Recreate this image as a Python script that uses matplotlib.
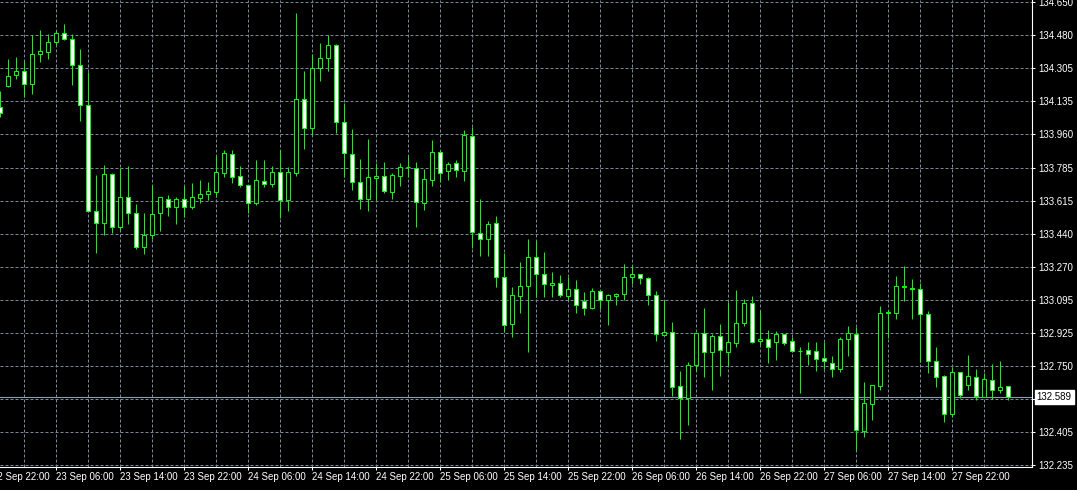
import matplotlib
matplotlib.use("Agg")
import matplotlib.pyplot as plt
import numpy as np

plt.rcParams['font.family'] = ['Liberation Sans', 'DejaVu Sans']

# ---- data (hourly candles, 22 Sep 23:00 .. 28 Sep 05:00) ----
opens = [134.102, 134.215, 134.269, 134.290, 134.222, 134.379, 134.392, 134.441, 134.488, 134.457,
         134.321, 134.112, 133.559, 133.497, 133.754, 133.476, 133.632, 133.549, 133.374, 133.434,
         133.549, 133.622, 133.583, 133.622, 133.583, 133.630, 133.651, 133.661, 133.761, 133.857,
         133.742, 133.695, 133.604, 133.716, 133.700, 133.763, 133.617, 133.761, 134.144, 133.996,
         134.306, 134.358, 134.426, 134.024, 133.857, 133.711, 133.625, 133.731, 133.742, 133.661,
         133.745, 133.788, 133.784, 133.601, 133.724, 133.867, 133.768, 133.810, 133.771, 133.951,
         133.444, 133.416, 133.497, 133.215, 132.969, 133.119, 133.168, 133.319, 133.230, 133.176,
         133.183, 133.119, 133.152, 133.089, 133.056, 133.142, 133.095, 133.119, 133.126, 133.215,
         133.230, 133.209, 133.121, 132.915, 132.928, 132.647, 132.586, 132.755, 132.922, 132.823,
         132.907, 132.826, 132.873, 132.975, 133.079, 132.881, 132.891, 132.879, 132.917, 132.881,
         132.830, 132.834, 132.828, 132.792, 132.766, 132.735, 132.891, 132.917, 132.412, 132.555,
         132.649, 133.028, 133.027, 133.166, 133.160, 133.152, 133.022, 132.776, 132.698, 132.503,
         132.719, 132.654, 132.693, 132.592, 132.677, 132.625, 132.646]
highs = [134.189, 134.353, 134.363, 134.344, 134.478, 134.504, 134.483, 134.502, 134.537, 134.485,
         134.405, 134.285, 133.749, 133.799, 133.757, 133.785, 133.796, 133.596, 133.549, 133.695,
         133.635, 133.643, 133.634, 133.691, 133.707, 133.723, 133.712, 133.848, 133.879, 133.879,
         133.796, 133.697, 133.827, 133.827, 133.796, 133.879, 133.792, 134.593, 134.291, 134.380,
         134.439, 134.478, 134.434, 134.123, 133.987, 133.831, 133.935, 133.810, 133.815, 133.758,
         133.810, 133.846, 133.815, 133.778, 133.930, 133.879, 133.815, 133.825, 133.983, 133.999,
         133.623, 133.509, 133.535, 133.340, 133.162, 133.295, 133.413, 133.406, 133.347, 133.242,
         133.225, 133.216, 133.201, 133.136, 133.157, 133.143, 133.128, 133.131, 133.284, 133.274,
         133.232, 133.215, 133.142, 133.095, 132.981, 132.726, 132.771, 132.926, 133.054, 132.919,
         132.971, 133.087, 133.148, 133.100, 133.117, 133.039, 132.940, 132.936, 132.919, 132.905,
         132.849, 132.877, 132.877, 132.877, 132.802, 132.902, 132.961, 132.954, 132.668, 132.653,
         133.065, 133.044, 133.221, 133.274, 133.204, 133.187, 133.039, 132.849, 132.703, 132.748,
         132.722, 132.808, 132.736, 132.717, 132.762, 132.778, 132.647]
lows = [134.053, 134.209, 134.251, 134.157, 134.173, 134.340, 134.356, 134.426, 134.452, 134.220,
        134.032, 133.554, 133.343, 133.437, 133.447, 133.462, 133.494, 133.361, 133.336, 133.416,
        133.456, 133.536, 133.494, 133.531, 133.573, 133.601, 133.618, 133.635, 133.740, 133.705,
        133.684, 133.549, 133.594, 133.688, 133.688, 133.523, 133.562, 133.745, 133.886, 133.959,
        134.241, 134.293, 133.969, 133.740, 133.670, 133.573, 133.562, 133.618, 133.656, 133.625,
        133.693, 133.740, 133.479, 133.568, 133.693, 133.714, 133.724, 133.737, 133.719, 133.366,
        133.327, 133.327, 133.166, 132.931, 132.905, 133.030, 132.826, 133.112, 133.112, 133.112,
        133.113, 133.098, 133.030, 133.019, 133.051, 133.051, 132.967, 133.072, 133.095, 133.178,
        133.178, 133.072, 132.884, 132.912, 132.595, 132.372, 132.445, 132.727, 132.696, 132.626,
        132.700, 132.753, 132.852, 132.961, 132.873, 132.861, 132.769, 132.783, 132.861, 132.826,
        132.609, 132.757, 132.727, 132.735, 132.696, 132.720, 132.804, 132.313, 132.383, 132.470,
        132.625, 132.898, 132.995, 133.091, 132.999, 132.773, 132.714, 132.641, 132.461, 132.487,
        132.583, 132.626, 132.574, 132.588, 132.581, 132.612, 132.576]
closes = [134.074, 134.264, 134.290, 134.222, 134.379, 134.394, 134.441, 134.488, 134.457, 134.321,
          134.112, 133.562, 133.497, 133.754, 133.476, 133.632, 133.549, 133.374, 133.434, 133.545,
          133.632, 133.583, 133.622, 133.583, 133.632, 133.648, 133.665, 133.763, 133.862, 133.740,
          133.695, 133.601, 133.721, 133.700, 133.763, 133.620, 133.763, 134.144, 133.992, 134.306,
          134.358, 134.426, 134.024, 133.862, 133.711, 133.625, 133.737, 133.742, 133.667, 133.747,
          133.789, 133.790, 133.606, 133.726, 133.867, 133.761, 133.804, 133.773, 133.956, 133.450,
          133.416, 133.493, 133.215, 132.967, 133.121, 133.168, 133.319, 133.230, 133.178, 133.185,
          133.121, 133.152, 133.069, 133.053, 133.142, 133.095, 133.121, 133.126, 133.215, 133.230,
          133.209, 133.121, 132.917, 132.928, 132.644, 132.586, 132.755, 132.922, 132.823, 132.907,
          132.834, 132.875, 132.975, 133.079, 132.879, 132.891, 132.852, 132.917, 132.873, 132.828,
          132.832, 132.816, 132.790, 132.776, 132.735, 132.891, 132.922, 132.416, 132.557, 132.651,
          133.027, 133.032, 133.168, 133.168, 133.152, 133.022, 132.776, 132.693, 132.500, 132.719,
          132.602, 132.698, 132.595, 132.682, 132.625, 132.642, 132.589]

last_price = 132.589

x_label_pos = [7, 15, 23, 31, 39, 47, 55, 63, 71, 79, 87, 95, 103, 111, 119]
x_labels = ['23 Sep 06:00', '23 Sep 14:00', '23 Sep 22:00', '24 Sep 06:00', '24 Sep 14:00',
            '24 Sep 22:00', '25 Sep 06:00', '25 Sep 14:00', '25 Sep 22:00', '26 Sep 06:00',
            '26 Sep 14:00', '26 Sep 22:00', '27 Sep 06:00', '27 Sep 14:00', '27 Sep 22:00']
first_label_pos = -1
first_label = '22 Sep 22:00'
x_grid_minor = [3, 11, 19, 27, 35, 43, 51, 59, 67, 75, 83, 91, 99, 107, 115, 123]

y_tick_vals = [132.235, 132.4075, 132.58, 132.7525, 132.925, 133.0975, 133.27, 133.4425,
               133.615, 133.7875, 133.96, 134.1325, 134.305, 134.4775, 134.65]
y_tick_labels = ['132.235', '132.405', '', '132.750', '132.925', '133.095', '133.270', '133.440',
                 '133.615', '133.785', '133.960', '134.135', '134.305', '134.480', '134.650']

# ---- figure ----
W, H = 1077, 490
fig = plt.figure(figsize=(W / 100, H / 100), dpi=100, facecolor='black')
ax = fig.add_axes([0, 22.7 / H, 1032.3 / W, 467.3 / H])
ax.set_facecolor('black')
ax.set_xlim(-0.0375, 129.0)
ax.set_ylim(132.223, 134.662)

green = '#00ff00'
grid_c = '#778899'

x = np.arange(len(opens))
o = np.array(opens); c = np.array(closes)
h = np.array(highs); l = np.array(lows)
bottoms = np.minimum(o, c)
heights = np.abs(c - o)
fills = ['white' if cc < oo else 'black' for oo, cc in zip(o, c)]

ax.vlines(x, l, h, color=green, linewidth=0.75, zorder=3)
ax.bar(x, heights, bottom=bottoms, width=0.5, color=fills, edgecolor=green,
       linewidth=0.75, zorder=4)

# current price line
ax.axhline(last_price, color='#8f9cab', linewidth=0.8, zorder=2)

# axes styling
for s in ['top', 'left']:
    ax.spines[s].set_visible(False)
for s in ['bottom', 'right']:
    ax.spines[s].set_color('white')
    ax.spines[s].set_linewidth(0.8)

ax.yaxis.tick_right()
ax.set_yticks(y_tick_vals, y_tick_labels)
ax.tick_params(axis='y', which='major', colors='white', labelcolor='white', length=2.5,
               width=0.75, pad=1.5, labelsize=7)

ax.set_xticks(x_label_pos, x_labels)
ax.set_xticks(x_grid_minor, minor=True)
ax.tick_params(axis='x', which='major', colors='white', labelcolor='white', length=2.5,
               width=0.75, pad=1.0, labelsize=7)
ax.tick_params(axis='x', which='minor', length=0)
for lbl in ax.get_xticklabels():
    lbl.set_horizontalalignment('left')

ax.annotate(first_label, xy=(first_label_pos, 0), xycoords=('data', 'axes fraction'),
            xytext=(0, -3.5), textcoords='offset points', ha='left', va='top',
            color='white', fontsize=7, annotation_clip=False)

ax.set_axisbelow(True)
gkw = dict(color=grid_c, linewidth=0.72, linestyle=(0, (3, 2)))
ax.grid(True, which='both', axis='x', **gkw)
ax.grid(True, which='major', axis='y', **gkw)

ax.annotate(f'{last_price:.3f}', xy=(1, last_price), xycoords=('axes fraction', 'data'),
            xytext=(3.2, 0), textcoords='offset points', ha='left', va='center',
            color='black', fontsize=7, annotation_clip=False,
            bbox=dict(boxstyle='square,pad=0.2', fc='white', ec='white'))

fig.savefig('out.png', dpi=100, facecolor='black')
